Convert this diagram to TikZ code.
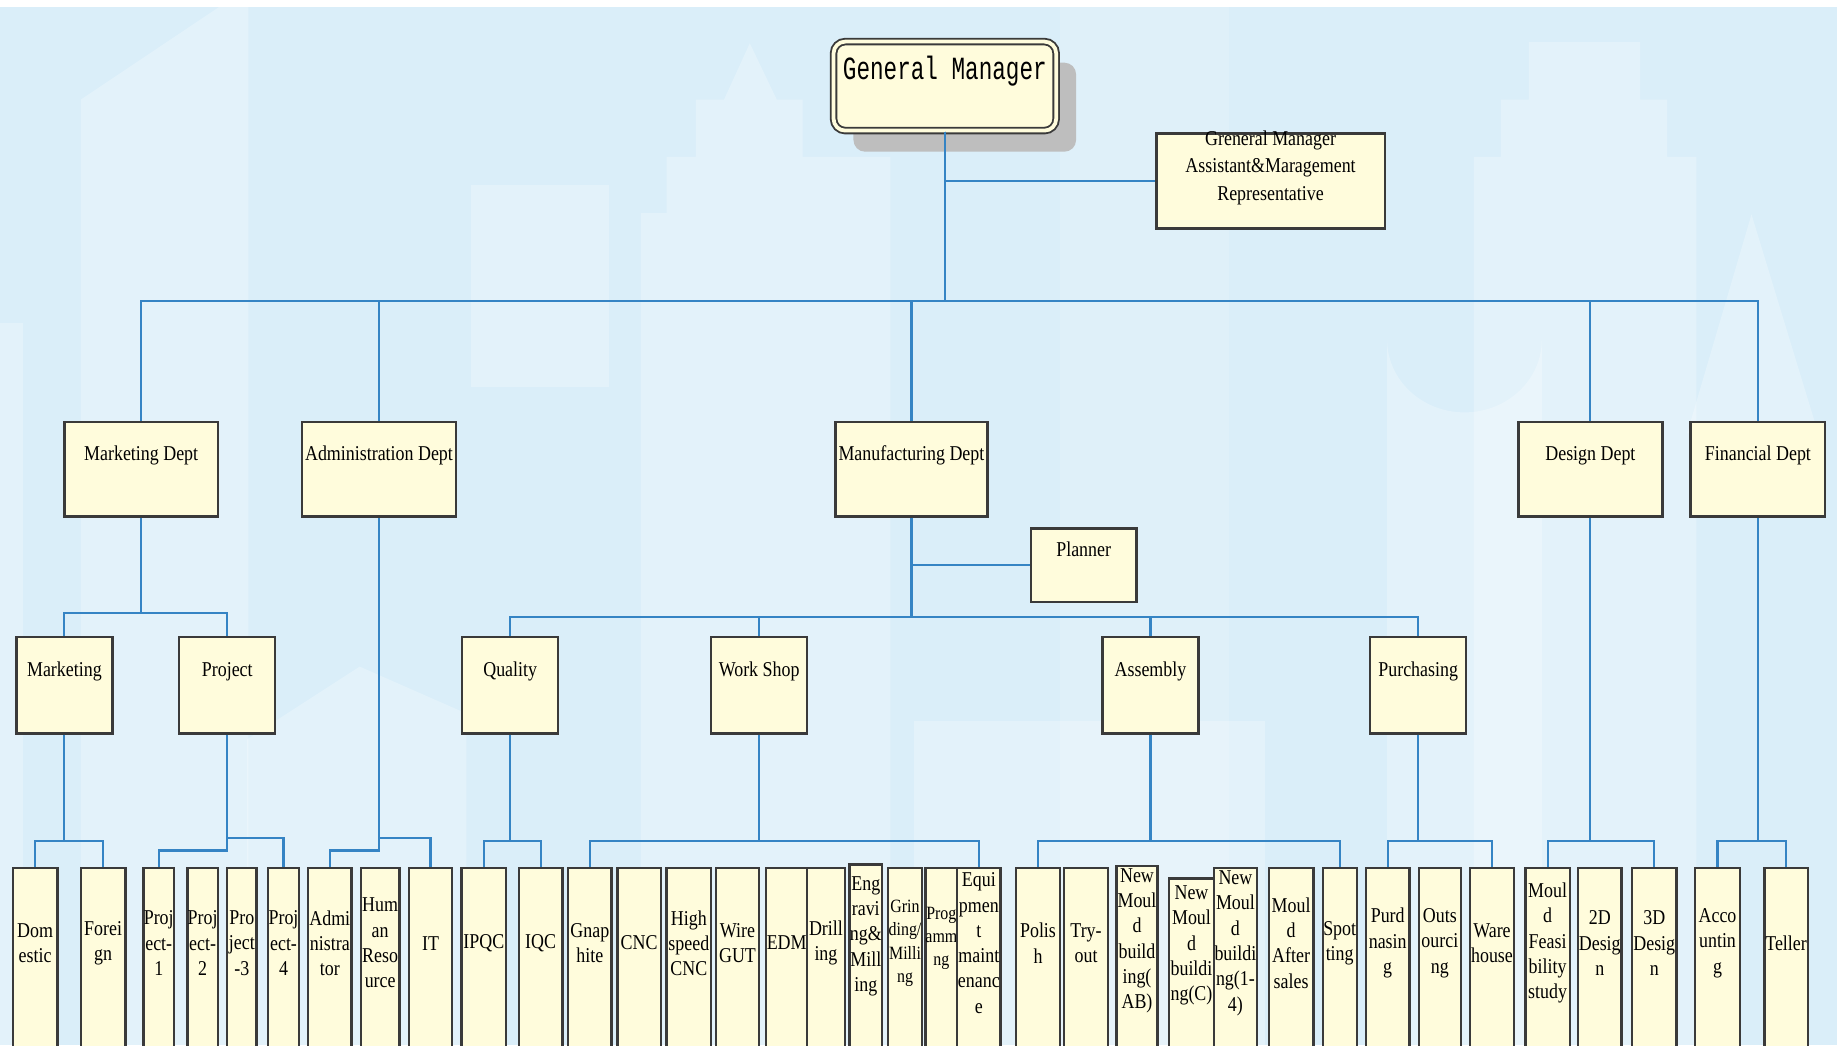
\documentclass[tikz,border=0pt]{standalone}
\usepackage{fontspec}
\setmainfont{Liberation Serif}[FakeStretch=0.85]
\newfontfamily\gmfont{Liberation Mono}[FakeStretch=0.7]
\usetikzlibrary{shadows}

\definecolor{skyblue}{HTML}{DAEEF9}
\definecolor{boxfill}{HTML}{FFFCDC}
\definecolor{boxline}{HTML}{3A3A3A}
\definecolor{linkblue}{HTML}{3584C4}
\definecolor{shadowgray}{HTML}{BEBEBE}

\tikzset{
    box/.style={draw=boxline, fill=boxfill, line width=1pt, inner sep=0pt},
    dept/.style={box, minimum height=40.5pt},
    sub/.style={box, minimum width=41pt, minimum height=41pt},
    leaf/.style={box, anchor=north, minimum height=100pt},
    tbase/.style={anchor=center, inner sep=0pt, align=center},
    txt/.style={tbase, yshift=-15pt, font=\fontsize{9}{11.7}\selectfont},
    ltxt/.style={tbase, yshift=-32.5pt, font=\fontsize{9}{10.8}\selectfont},
    stxt/.style={tbase, yshift=-32.5pt, font=\fontsize{8}{10}\selectfont},
    link/.style={draw=linkblue, line width=0.9pt},
    bldg/.style={fill=white, opacity=0.26}
}

\begin{document}
\begin{tikzpicture}[x=0.5pt, y=-0.5pt]
        \useasboundingbox (0,0) rectangle (1568,892);
        \clip (0,0) rectangle (1568,892);

        % background
        \fill[skyblue] (0,0) rectangle (1568,892);
        \fill[bldg] (0,276) rectangle (20,892);
        \fill[bldg] (69,892) -- (69,85) -- (187,6) -- (212,6) -- (212,892) -- cycle;
        \fill[bldg] (402,158) rectangle (520,330);
        \fill[bldg] (547,892) -- (547,182) -- (569,182) -- (569,134) -- (594,134) -- (594,85) -- (618,85)
            -- (640,37) -- (663,85) -- (685,85) -- (685,134) -- (760,134) -- (760,892) -- cycle;
        \fill[bldg, opacity=0.15] (905,6) rectangle (1049,892);
        \fill[bldg] (1258,892) -- (1258,134) -- (1281,134) -- (1281,85) -- (1305,85) -- (1305,36) -- (1400,36)
            -- (1400,85) -- (1423,85) -- (1423,134) -- (1448,134) -- (1448,892) -- cycle;
        \fill[bldg] (1184,892) -- (1184,290) arc[start angle=180, end angle=0, x radius=66, y radius=62] -- (1316,892) -- cycle;
        \fill[bldg] (1495,183) -- (1552,370) -- (1440,370) -- cycle;
        \fill[bldg] (211,892) -- (211,631) -- (307,569) -- (398,609) -- (398,892) -- cycle;
        \fill[bldg] (780,615) rectangle (1080,892);
        \fill[white] (0,0) rectangle (1568,6);

        % top
        \node[box, rounded corners=5pt, double=boxfill, double distance=1.6pt, line width=0.8pt,
            minimum width=95pt, minimum height=38pt,
            drop shadow={shadow xshift=8.5pt, shadow yshift=-9pt, fill=shadowgray, opacity=1},
            label={[tbase, yshift=-13.2pt, font=\gmfont\fontsize{13.8}{16}\selectfont]north:General Manager}]
            (gm) at (806.5,73.5) {};
        \node[dept, minimum width=97.5pt,
            label={[txt]north:Greneral Manager\\Assistant\&Maragement\\Representative}] (asst) at (1084.5,154.5) {};

        % departments
        \node[dept, minimum width=65.5pt, label={[txt]north:Marketing Dept}] (mkt) at (120.5,400.5) {};
        \node[dept, minimum width=65.5pt, label={[txt]north:Administration Dept}] (adm) at (323.5,400.5) {};
        \node[dept, minimum width=65pt, label={[txt]north:Manufacturing Dept}] (mfg) at (778,400.5) {};
        \node[dept, minimum width=61.5pt, label={[txt]north:Design Dept}] (dsg) at (1357.5,400.5) {};
        \node[dept, minimum width=57.5pt, label={[txt]north:Financial Dept}] (fin) at (1500.5,400.5) {};
        \node[box, minimum width=45pt, minimum height=31.5pt,
            label={[txt, yshift=5.5pt]north:Planner}] (plan) at (925,482.5) {};

        % sections
        \node[sub, label={[txt]north:Marketing}] (mktg) at (55,585) {};
        \node[sub, label={[txt]north:Project}] (proj) at (194,585) {};
        \node[sub, label={[txt]north:Quality}] (qual) at (435.5,585) {};
        \node[sub, label={[txt]north:Work Shop}] (wshop) at (648,585) {};
        \node[sub, label={[txt]north:Assembly}] (asm) at (982,585) {};
        \node[sub, label={[txt]north:Purchasing}] (pur) at (1210.5,585) {};

        % groups
        \node[leaf, minimum width=19pt, label={[ltxt]north:Dom\\estic}] (dom) at (30,740) {};
        \node[leaf, minimum width=19pt, label={[ltxt]north:Forei\\gn}] (forn) at (88,740) {};
        \node[leaf, minimum width=13pt, label={[ltxt]north:Proj\\ect-\\1}] (pa) at (135.5,740) {};
        \node[leaf, minimum width=13pt, label={[ltxt]north:Proj\\ect-\\2}] (pb) at (173,740) {};
        \node[leaf, minimum width=12.5pt, label={[ltxt]north:Pro\\ject\\-3}] (pc) at (206.5,740) {};
        \node[leaf, minimum width=13pt, label={[ltxt]north:Proj\\ect-\\4}] (pd) at (242,740) {};
        \node[leaf, minimum width=18.5pt, label={[ltxt]north:Admi\\nistra\\tor}] (adms) at (281.5,740) {};
        \node[leaf, minimum width=16.5pt, label={[ltxt]north:Hum\\an\\Reso\\urce}] (hr) at (324.5,740) {};
        \node[leaf, minimum width=18.5pt, label={[ltxt]north:IT}] (it) at (367.5,740) {};
        \node[leaf, minimum width=19pt, label={[ltxt]north:IPQC}] (ipqc) at (413,740) {};
        \node[leaf, minimum width=18.5pt, label={[ltxt]north:IQC}] (iqc) at (461.5,740) {};
        \node[leaf, minimum width=18.5pt, label={[ltxt]north:Gnap\\hite}] (gnap) at (503.5,740) {};
        \node[leaf, minimum width=18.5pt, label={[ltxt]north:CNC}] (cnc) at (545.5,740) {};
        \node[leaf, minimum width=19pt, label={[ltxt]north:High\\speed\\CNC}] (hscnc) at (588,740) {};
        \node[leaf, minimum width=18.5pt, label={[ltxt]north:Wire\\GUT}] (wire) at (629.5,740) {};
        \node[leaf, minimum width=17.5pt, label={[ltxt]north:EDM}] (edm) at (671.5,740) {};
        \node[leaf, minimum width=16pt, label={[ltxt]north:Drill\\ing}] (drill) at (705,740) {};
        \node[leaf, minimum width=14pt, label={[ltxt, yshift=1.5pt]north:Eng\\ravi\\ng\&\\Mill\\ing}] (engr) at (739,737) {};
        \node[leaf, minimum width=14.5pt, label={[stxt]north:Grin\\ding/\\Milli\\ng}] (grind) at (772.5,740) {};
        \node[leaf, minimum width=13.5pt, label={[stxt, yshift=2pt]north:Prog\\amm\\ng}] (prog) at (803.5,740) {};
        \node[leaf, minimum width=18.5pt, label={[ltxt]north:Equi\\pmen\\t\\maint\\enanc\\e}] (equip) at (835.5,740) {};
        \node[leaf, minimum width=19pt, label={[ltxt]north:Polis\\h}] (pol) at (886,740) {};
        \node[leaf, minimum width=19pt, label={[ltxt]north:Try-\\out}] (try) at (927,740) {};
        \node[leaf, minimum width=17.5pt, label={[ltxt]north:New\\Moul\\d\\build\\ing(\\AB)}] (nmab) at (970.5,738) {};
        \node[leaf, minimum width=19pt, label={[ltxt, yshift=3.5pt]north:New\\Moul\\d\\buildi\\ng(C)}] (nmc) at (1017,749) {};
        \node[leaf, minimum width=18.5pt, label={[ltxt]north:New\\Moul\\d\\buildi\\ng(1-\\4)}] (nm14) at (1054.5,740) {};
        \node[leaf, minimum width=19pt, label={[ltxt]north:Moul\\d\\After\\sales}] (mas) at (1102,740) {};
        \node[leaf, minimum width=14.5pt, label={[ltxt]north:Spot\\ting}] (spot) at (1143.5,740) {};
        \node[leaf, minimum width=18.5pt, label={[ltxt]north:Purd\\nasin\\g}] (purd) at (1184.5,740) {};
        \node[leaf, minimum width=18pt, label={[ltxt]north:Outs\\ourci\\ng}] (outs) at (1229,740) {};
        \node[leaf, minimum width=18.5pt, label={[ltxt]north:Ware\\house}] (ware) at (1273.5,740) {};
        \node[leaf, minimum width=19pt, label={[ltxt]north:Moul\\d\\Feasi\\bility\\study}] (mfs) at (1321,740) {};
        \node[leaf, minimum width=18.5pt, label={[ltxt]north:2D\\Desig\\n}] (d2) at (1365.5,740) {};
        \node[leaf, minimum width=19pt, label={[ltxt]north:3D\\Desig\\n}] (d3) at (1412,740) {};
        \node[leaf, minimum width=19pt, label={[ltxt]north:Acco\\untin\\g}] (acc) at (1466,740) {};
        \node[leaf, minimum width=18.5pt, label={[ltxt]north:Teller}] (tel) at (1524.5,740) {};

        % connectors
        \coordinate (bus) at (0,257);
        \coordinate (mbus) at (0,523);
        \coordinate (fbus) at (0,527);
        \coordinate (lbus) at (0,718);
        \coordinate (lbushi) at (0,715);
        \coordinate (lbuslo) at (0,726);

        \draw[link] (gm |- asst.west) -- (asst.west);
        \draw[link] (gm.south) -- (gm |- bus) -| (mkt.north);
        \draw[link] (gm.south) -- (gm |- bus) -| (adm.north);
        \draw[link] (gm.south) -- (gm |- bus) -| (mfg.north);
        \draw[link] (gm.south) -- (gm |- bus) -| (dsg.north);
        \draw[link] (gm.south) -- (gm |- bus) -| (fin.north);

        \draw[link] (mkt.south) -- (mkt |- mbus) -| (mktg.north);
        \draw[link] (mkt.south) -- (mkt |- mbus) -| (proj.north);
        \draw[link] (mfg |- plan.west) -- (plan.west);
        \draw[link] (mfg.south) -- (mfg |- fbus) -| (qual.north);
        \draw[link] (mfg.south) -- (mfg |- fbus) -| (wshop.north);
        \draw[link] (mfg.south) -- (mfg |- fbus) -| (asm.north);
        \draw[link] (mfg.south) -- (mfg |- fbus) -| (pur.north);

        \draw[link] (mktg.south) -- (mktg |- lbus) -| (dom.north);
        \draw[link] (mktg.south) -- (mktg |- lbus) -| (forn.north);
        \draw[link] (proj.south) -- (proj |- lbuslo) -| (pa.north);
        \draw[link] (proj |- lbushi) -| (pd.north);
        \draw[link] (adm.south) -- (adm |- lbuslo) -| (adms.north);
        \draw[link] (adm |- lbushi) -| (it.north);
        \draw[link] (qual.south) -- (qual |- lbus) -| (ipqc.north);
        \draw[link] (qual.south) -- (qual |- lbus) -| (iqc.north);
        \draw[link] (wshop.south) -- (wshop |- lbus) -| (gnap.north);
        \draw[link] (wshop.south) -- (wshop |- lbus) -| (equip.north);
        \draw[link] (asm.south) -- (asm |- lbus) -| (pol.north);
        \draw[link] (asm.south) -- (asm |- lbus) -| (spot.north);
        \draw[link] (pur.south) -- (pur |- lbus) -| (purd.north);
        \draw[link] (pur.south) -- (pur |- lbus) -| (ware.north);
        \draw[link] (dsg.south) -- (dsg |- lbus) -| (mfs.north);
        \draw[link] (dsg.south) -- (dsg |- lbus) -| (d3.north);
        \draw[link] (fin.south) -- (fin |- lbus) -| (acc.north);
        \draw[link] (fin.south) -- (fin |- lbus) -| (tel.north);

    \end{tikzpicture}
\end{document}
